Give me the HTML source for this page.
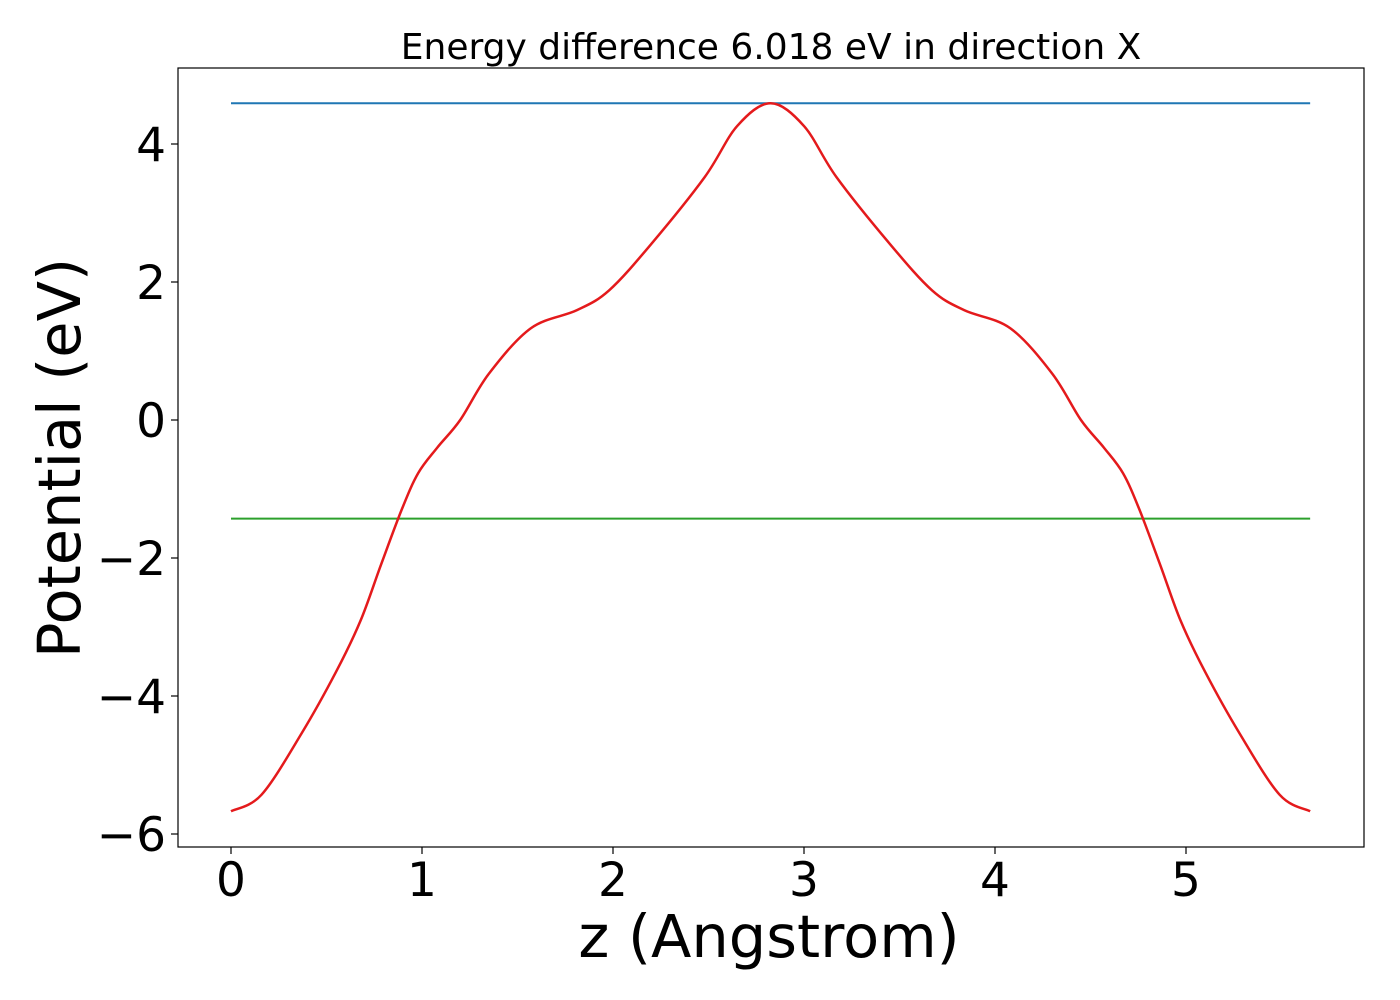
<!DOCTYPE html>
<html><head><meta charset="utf-8"><style>
html,body{margin:0;padding:0;background:#fff;}
svg{display:block;font-family:"DejaVu Sans","Liberation Sans",sans-serif;}
</style></head><body>
<svg id="chart" width="1400" height="1000" viewBox="0 0 1400 1000">
<rect width="1400" height="1000" fill="#fff"/>
<text x="771" y="59" font-size="36" text-anchor="middle">Energy difference 6.018 eV in direction X</text>
<g id="marks"></g>
<rect x="178" y="68" width="1186" height="779" fill="none" stroke="#000" stroke-width="1.2"/>
<g id="xticks"></g><g id="yticks"></g>
<text x="769" y="957" font-size="59" text-anchor="middle">z (Angstrom)</text>
<text transform="translate(80,458) rotate(-90)" font-size="59" text-anchor="middle">Potential (eV)</text>
</svg>
<script>
const zValues = [0,0.16,0.37,0.55,0.678,0.785,0.895,0.98,1.08,1.2,1.35,1.57,1.81,1.98,2.2,2.48,2.65,2.825,3.0,3.17,3.45,3.67,3.84,4.08,4.3,4.45,4.57,4.67,4.755,4.865,4.972,5.1,5.28,5.49,5.65];
const potential = [-5.67,-5.43,-4.54,-3.65,-2.91,-2.1,-1.29,-0.77,-0.4,0,0.67,1.33,1.59,1.88,2.55,3.52,4.26,4.59,4.26,3.52,2.55,1.88,1.59,1.33,0.67,0,-0.4,-0.77,-1.29,-2.1,-2.91,-3.65,-4.54,-5.43,-5.67];
const vacuumLevel = [4.59];
const fermiLevel = [-1.43];
const xTicks = [0,1,2,3,4,5];
const yTicks = [4,2,0,-2,-4,-6];
const xMax = 5.65;

const NS="http://www.w3.org/2000/svg";
const X = v => 231 + v*191;
const Y = v => 420 - v*69;
const marks=document.getElementById('marks');

function hline(val,color,name){
  const l=document.createElementNS(NS,'line');
  l.setAttribute('x1',X(0));l.setAttribute('x2',X(xMax));
  l.setAttribute('y1',Y(val));l.setAttribute('y2',Y(val));
  l.setAttribute('stroke',color);l.setAttribute('stroke-width','2');
  
  
  marks.appendChild(l);
}
hline(vacuumLevel[0],'#1f77b4','vacuum-level-line');
hline(fermiLevel[0],'#2ca02c','fermi-level-line');

const pts=zValues.map((z,i)=>[X(z),Y(potential[i])]);
let d='M'+pts[0][0]+','+pts[0][1];
for(let i=0;i<pts.length-1;i++){
  const p0=pts[Math.max(0,i-1)],p1=pts[i],p2=pts[i+1],p3=pts[Math.min(pts.length-1,i+2)];
  const c1=[p1[0]+(p2[0]-p0[0])/6,p1[1]+(p2[1]-p0[1])/6];
  const c2=[p2[0]-(p3[0]-p1[0])/6,p2[1]-(p3[1]-p1[1])/6];
  d+=' C'+c1.join(',')+' '+c2.join(',')+' '+p2.join(',');
}
const path=document.createElementNS(NS,'path');
path.setAttribute('d',d);path.setAttribute('fill','none');
path.setAttribute('stroke','#e41a1c');path.setAttribute('stroke-width','2.5');


marks.appendChild(path);

const xg=document.getElementById('xticks');
xTicks.forEach(t=>{
  const l=document.createElementNS(NS,'line');
  l.setAttribute('x1',X(t));l.setAttribute('x2',X(t));l.setAttribute('y1',847);l.setAttribute('y2',854);
  l.setAttribute('stroke','#000');l.setAttribute('stroke-width','1.2');
  
  
  xg.appendChild(l);
  const tx=document.createElementNS(NS,'text');
  tx.setAttribute('x',X(t));tx.setAttribute('y',896);tx.setAttribute('font-size','47');tx.setAttribute('text-anchor','middle');
  tx.textContent=t;
  
  
  xg.appendChild(tx);
});
const yg=document.getElementById('yticks');
yTicks.forEach(t=>{
  const l=document.createElementNS(NS,'line');
  l.setAttribute('x1',171);l.setAttribute('x2',178);l.setAttribute('y1',Y(t));l.setAttribute('y2',Y(t));
  l.setAttribute('stroke','#000');l.setAttribute('stroke-width','1.2');
  
  
  yg.appendChild(l);
  const tx=document.createElementNS(NS,'text');
  tx.setAttribute('x',166);tx.setAttribute('y',Y(t)+17);tx.setAttribute('font-size','47');tx.setAttribute('text-anchor','end');
  tx.textContent=(t<0?'\u2212'+Math.abs(t):String(t));
  
  
  yg.appendChild(tx);
});
</script>
</body></html>
